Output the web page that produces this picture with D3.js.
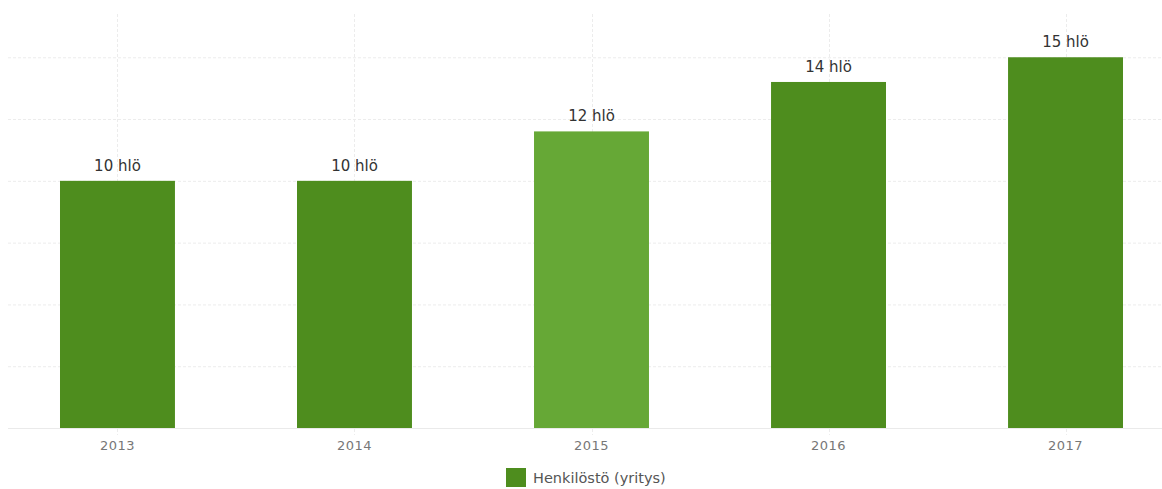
<!DOCTYPE html>
<html>
<head>
<meta charset="utf-8">
<script src="https://cdn.jsdelivr.net/npm/d3@7"></script>
<style>
  body { margin: 0; background: #fff; }
  text { font-family: "DejaVu Sans", sans-serif; }
</style>
</head>
<body>
<div id="chart"></div>
<script>
// Data
var years = ["2013", "2014", "2015", "2016", "2017"];
var staff = [10, 10, 12, 14, 15];
var gridValues = [2.5, 5, 7.5, 10, 12.5, 15];
var seriesName = "Henkilöstö (yritys)";

var svgWidth = 1162;
var svgHeight = 489;

var svg = d3.select("#chart")
  .append("svg")
  .attr("width", svgWidth)
  .attr("height", svgHeight);

// Scales
var x = d3.scaleBand()
  .domain(years)
  .range([12, 1171])
  .paddingInner(0.515)
  .paddingOuter(0.2025);

var y = d3.scaleLinear()
  .domain([0, 16.75])
  .range([428, 14]);

// Horizontal grid
svg.append("g").selectAll("line")
  .data(gridValues)
  .enter()
  .append("line")
  .attr("x1", 8)
  .attr("x2", svgWidth)
  .attr("y1", d => y(d) + 0.5)
  .attr("y2", d => y(d) + 0.5)
  .attr("stroke", "#ececec")
  .attr("stroke-dasharray", "3,2");

// Vertical grid at category centres
svg.append("g").selectAll("line")
  .data(years)
  .enter()
  .append("line")
  .attr("x1", d => Math.round(x(d) + x.bandwidth() / 2) + 0.5)
  .attr("x2", d => Math.round(x(d) + x.bandwidth() / 2) + 0.5)
  .attr("y1", y(16.75))
  .attr("y2", y(0) + 7)
  .attr("stroke", "#ececec")
  .attr("stroke-dasharray", "3,2");

// Baseline
svg.append("line")
  .attr("x1", 8)
  .attr("x2", svgWidth)
  .attr("y1", y(0) + 0.5)
  .attr("y2", y(0) + 0.5)
  .attr("stroke", "#eaeaea");

// Bars
svg.append("g").selectAll("rect")
  .data(years)
  .enter()
  .append("rect")
  .attr("x", d => x(d))
  .attr("y", (d, i) => y(staff[i]))
  .attr("width", x.bandwidth())
  .attr("height", (d, i) => y(0) - y(staff[i]))
  .attr("fill", d => d === "2015" ? "#66a836" : "#4e8d1e");

// Value labels
svg.append("g").selectAll("text")
  .data(years)
  .enter()
  .append("text")
  .attr("x", d => x(d) + x.bandwidth() / 2)
  .attr("y", (d, i) => y(staff[i]) - 10)
  .attr("text-anchor", "middle")
  .attr("font-size", "15px")
  .attr("fill", "#333")
  .text((d, i) => staff[i] + " hlö");

// X axis labels
var xAxis = d3.axisBottom(x).tickSize(0).tickPadding(0);
var axisG = svg.append("g")
  .attr("transform", "translate(0," + (y(0) + 22) + ")")
  .call(xAxis);
axisG.select(".domain").remove();
axisG.selectAll("text")
  .attr("font-family", "DejaVu Sans, sans-serif")
  .attr("font-size", "13px")
  .attr("letter-spacing", "0.5px")
  .attr("fill", "#777")
  .attr("dy", "0");

// Legend
var legend = svg.append("g")
  .attr("transform", "translate(506,468)");
legend.append("rect")
  .attr("width", 20)
  .attr("height", 19)
  .attr("fill", "#4e8d1e");
legend.append("text")
  .attr("x", 27)
  .attr("y", 15)
  .attr("font-size", "14.5px")
  .attr("fill", "#555")
  .text(seriesName);
</script>
</body>
</html>
